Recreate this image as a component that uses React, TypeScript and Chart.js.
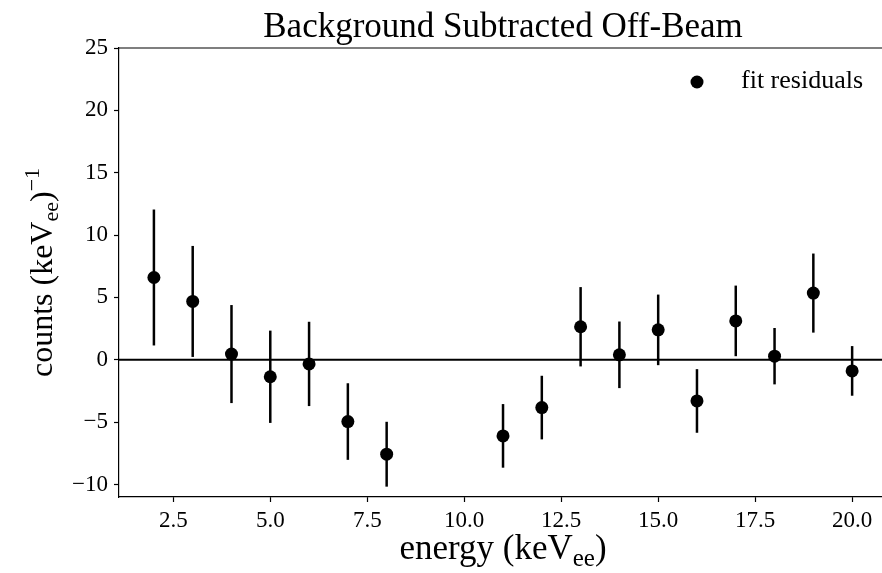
import React, { useEffect, useRef } from "react";
import { Chart, registerables } from "chart.js";

Chart.register(...registerables);

// ---- data ----
const energies = [2, 3, 4, 5, 6, 7, 8, 11, 12, 13, 14, 15, 16, 17, 18, 19, 20];
const residuals = [6.6, 4.68, 0.46, -1.36, -0.33, -4.95, -7.57, -6.1, -3.83, 2.65, 0.4, 2.4, -3.3, 3.12, 0.29, 5.35, -0.89];
const errors = [5.45, 4.45, 3.93, 3.7, 3.38, 3.07, 2.6, 2.55, 2.55, 3.18, 2.67, 2.83, 2.55, 2.83, 2.26, 3.17, 1.99];

const xTicks = [2.5, 5.0, 7.5, 10.0, 12.5, 15.0, 17.5, 20.0];
const yTicks = [-10, -5, 0, 5, 10, 15, 20, 25];
const xRange = [1.1, 20.77];
const yRange = [-11.0, 25];

const titleText = "Background Subtracted Off-Beam";
const legendLabel = "fit residuals";
const xLabelParts = [
  { text: "energy (keV", sub: false, sup: false },
  { text: "ee", sub: true, sup: false },
  { text: ")", sub: false, sup: false },
];
const yLabelParts = [
  { text: "counts (keV", sub: false, sup: false },
  { text: "ee", sub: true, sup: false },
  { text: ")", sub: false, sup: false },
  { text: "\u22121", sub: false, sup: true },
];

const FONT = "'Liberation Serif', 'Times New Roman', serif";

function drawRich(ctx: CanvasRenderingContext2D, parts: any[], size: number) {
  const small = Math.round(size * 0.7);
  const widths = parts.map((p) => {
    ctx.font = `${p.sub || p.sup ? small : size}px ${FONT}`;
    return ctx.measureText(p.text).width;
  });
  const total = widths.reduce((a, b) => a + b, 0);
  let cx = -total / 2;
  ctx.textBaseline = "alphabetic";
  ctx.textAlign = "left";
  parts.forEach((p, i) => {
    ctx.font = `${p.sub || p.sup ? small : size}px ${FONT}`;
    const dy = p.sub ? size * 0.2 : p.sup ? -size * 0.42 : 0;
    ctx.fillText(p.text, cx, dy);
    cx += widths[i];
  });
}

const decorations = {
  id: "decorations",
  beforeDatasetsDraw(chart: any) {
    const { ctx, chartArea } = chart;
    const { left, right, top } = chartArea;
    const xs = chart.scales.x;
    const ys = chart.scales.y;
    ctx.save();
    ctx.strokeStyle = "#000";
    ctx.lineWidth = 1.2;
    ctx.beginPath();
    ctx.moveTo(left, top);
    ctx.lineTo(right, top);
    ctx.stroke();
    // error bars
    ctx.lineWidth = 2.5;
    energies.forEach((e, i) => {
      const px = xs.getPixelForValue(e);
      ctx.beginPath();
      ctx.moveTo(px, ys.getPixelForValue(residuals[i] - errors[i]));
      ctx.lineTo(px, ys.getPixelForValue(residuals[i] + errors[i]));
      ctx.stroke();
    });
    // zero line
    const y0 = ys.getPixelForValue(0);
    ctx.lineWidth = 2;
    ctx.beginPath();
    ctx.moveTo(left, y0);
    ctx.lineTo(right, y0);
    ctx.stroke();
    ctx.restore();
  },
  afterDraw(chart: any) {
    const { ctx, chartArea } = chart;
    const { top, bottom } = chartArea;
    const xs = chart.scales.x;
    const cxAxes = (xs.getPixelForValue(xRange[0]) + xs.getPixelForValue(20.9)) / 2;
    ctx.save();
    ctx.fillStyle = "#000";
    // title
    ctx.font = `35px ${FONT}`;
    ctx.textAlign = "center";
    ctx.textBaseline = "alphabetic";
    ctx.fillText(titleText, cxAxes, 37);
    // x label
    ctx.save();
    ctx.translate(cxAxes, 559);
    drawRich(ctx, xLabelParts, 35);
    ctx.restore();
    // y label
    ctx.save();
    ctx.translate(52, (top + bottom) / 2);
    ctx.rotate(-Math.PI / 2);
    drawRich(ctx, yLabelParts, 32);
    ctx.restore();
    // legend
    ctx.beginPath();
    ctx.arc(697, 82, 6.5, 0, Math.PI * 2);
    ctx.fill();
    ctx.font = `26px ${FONT}`;
    ctx.textAlign = "left";
    ctx.fillText(legendLabel, 741, 88);
    ctx.restore();
  },
};

export default function App() {
  const ref = useRef<HTMLCanvasElement | null>(null);
  useEffect(() => {
    if (!ref.current) return;
    const chart = new Chart(ref.current, {
      type: "scatter",
      data: {
        datasets: [
          {
            label: legendLabel,
            data: energies.map((e, i) => ({ x: e, y: residuals[i] })),
            backgroundColor: "#000",
            borderColor: "#000",
            pointRadius: 6.5,
            pointHoverRadius: 6.5,
            borderWidth: 0,
            clip: false,
          },
        ],
      },
      options: {
        animation: false,
        responsive: false,
        events: [],
        layout: { autoPadding: false, padding: { top: 48, left: 0, right: 0, bottom: 0 } },
        plugins: { legend: { display: false }, tooltip: { enabled: false }, title: { display: false } },
        scales: {
          x: {
            type: "linear",
            min: xRange[0],
            max: xRange[1],
            offset: false,
            afterFit(scale: any) {
              scale.height = 76;
              scale.paddingLeft = 0;
              scale.paddingRight = 0;
            },
            afterBuildTicks(scale: any) {
              scale.ticks = xTicks.map((v) => ({ value: v }));
            },
            grid: { drawOnChartArea: false, drawTicks: true, tickLength: 5, tickColor: "#000", tickWidth: 1.2 },
            border: { display: true, color: "#000", width: 1.2 },
            ticks: {
              color: "#000",
              padding: 5,
              maxRotation: 0,
              autoSkip: false,
              font: { family: FONT, size: 23 },
              callback: (v: any) => Number(v).toFixed(1),
            },
          },
          y: {
            type: "linear",
            min: yRange[0],
            max: yRange[1],
            afterFit(scale: any) {
              scale.width = 119;
              scale.paddingTop = 0;
              scale.paddingBottom = 0;
            },
            afterBuildTicks(scale: any) {
              scale.ticks = yTicks.map((v) => ({ value: v }));
            },
            grid: { drawOnChartArea: false, drawTicks: true, tickLength: 5, tickColor: "#000", tickWidth: 1.2 },
            border: { display: true, color: "#000", width: 1.2 },
            ticks: {
              color: "#000",
              padding: 6,
              autoSkip: false,
              font: { family: FONT, size: 23 },
              callback: (v: any) => (v < 0 ? "\u2212" + Math.abs(v) : String(v)),
            },
          },
        },
      },
      plugins: [decorations],
    });
    return () => chart.destroy();
  }, []);
  return (
    <div style={{ position: "fixed", left: 0, top: 0, width: 882, height: 573, background: "#fff" }}>
      <canvas ref={ref} width={882} height={573} />
    </div>
  );
}
